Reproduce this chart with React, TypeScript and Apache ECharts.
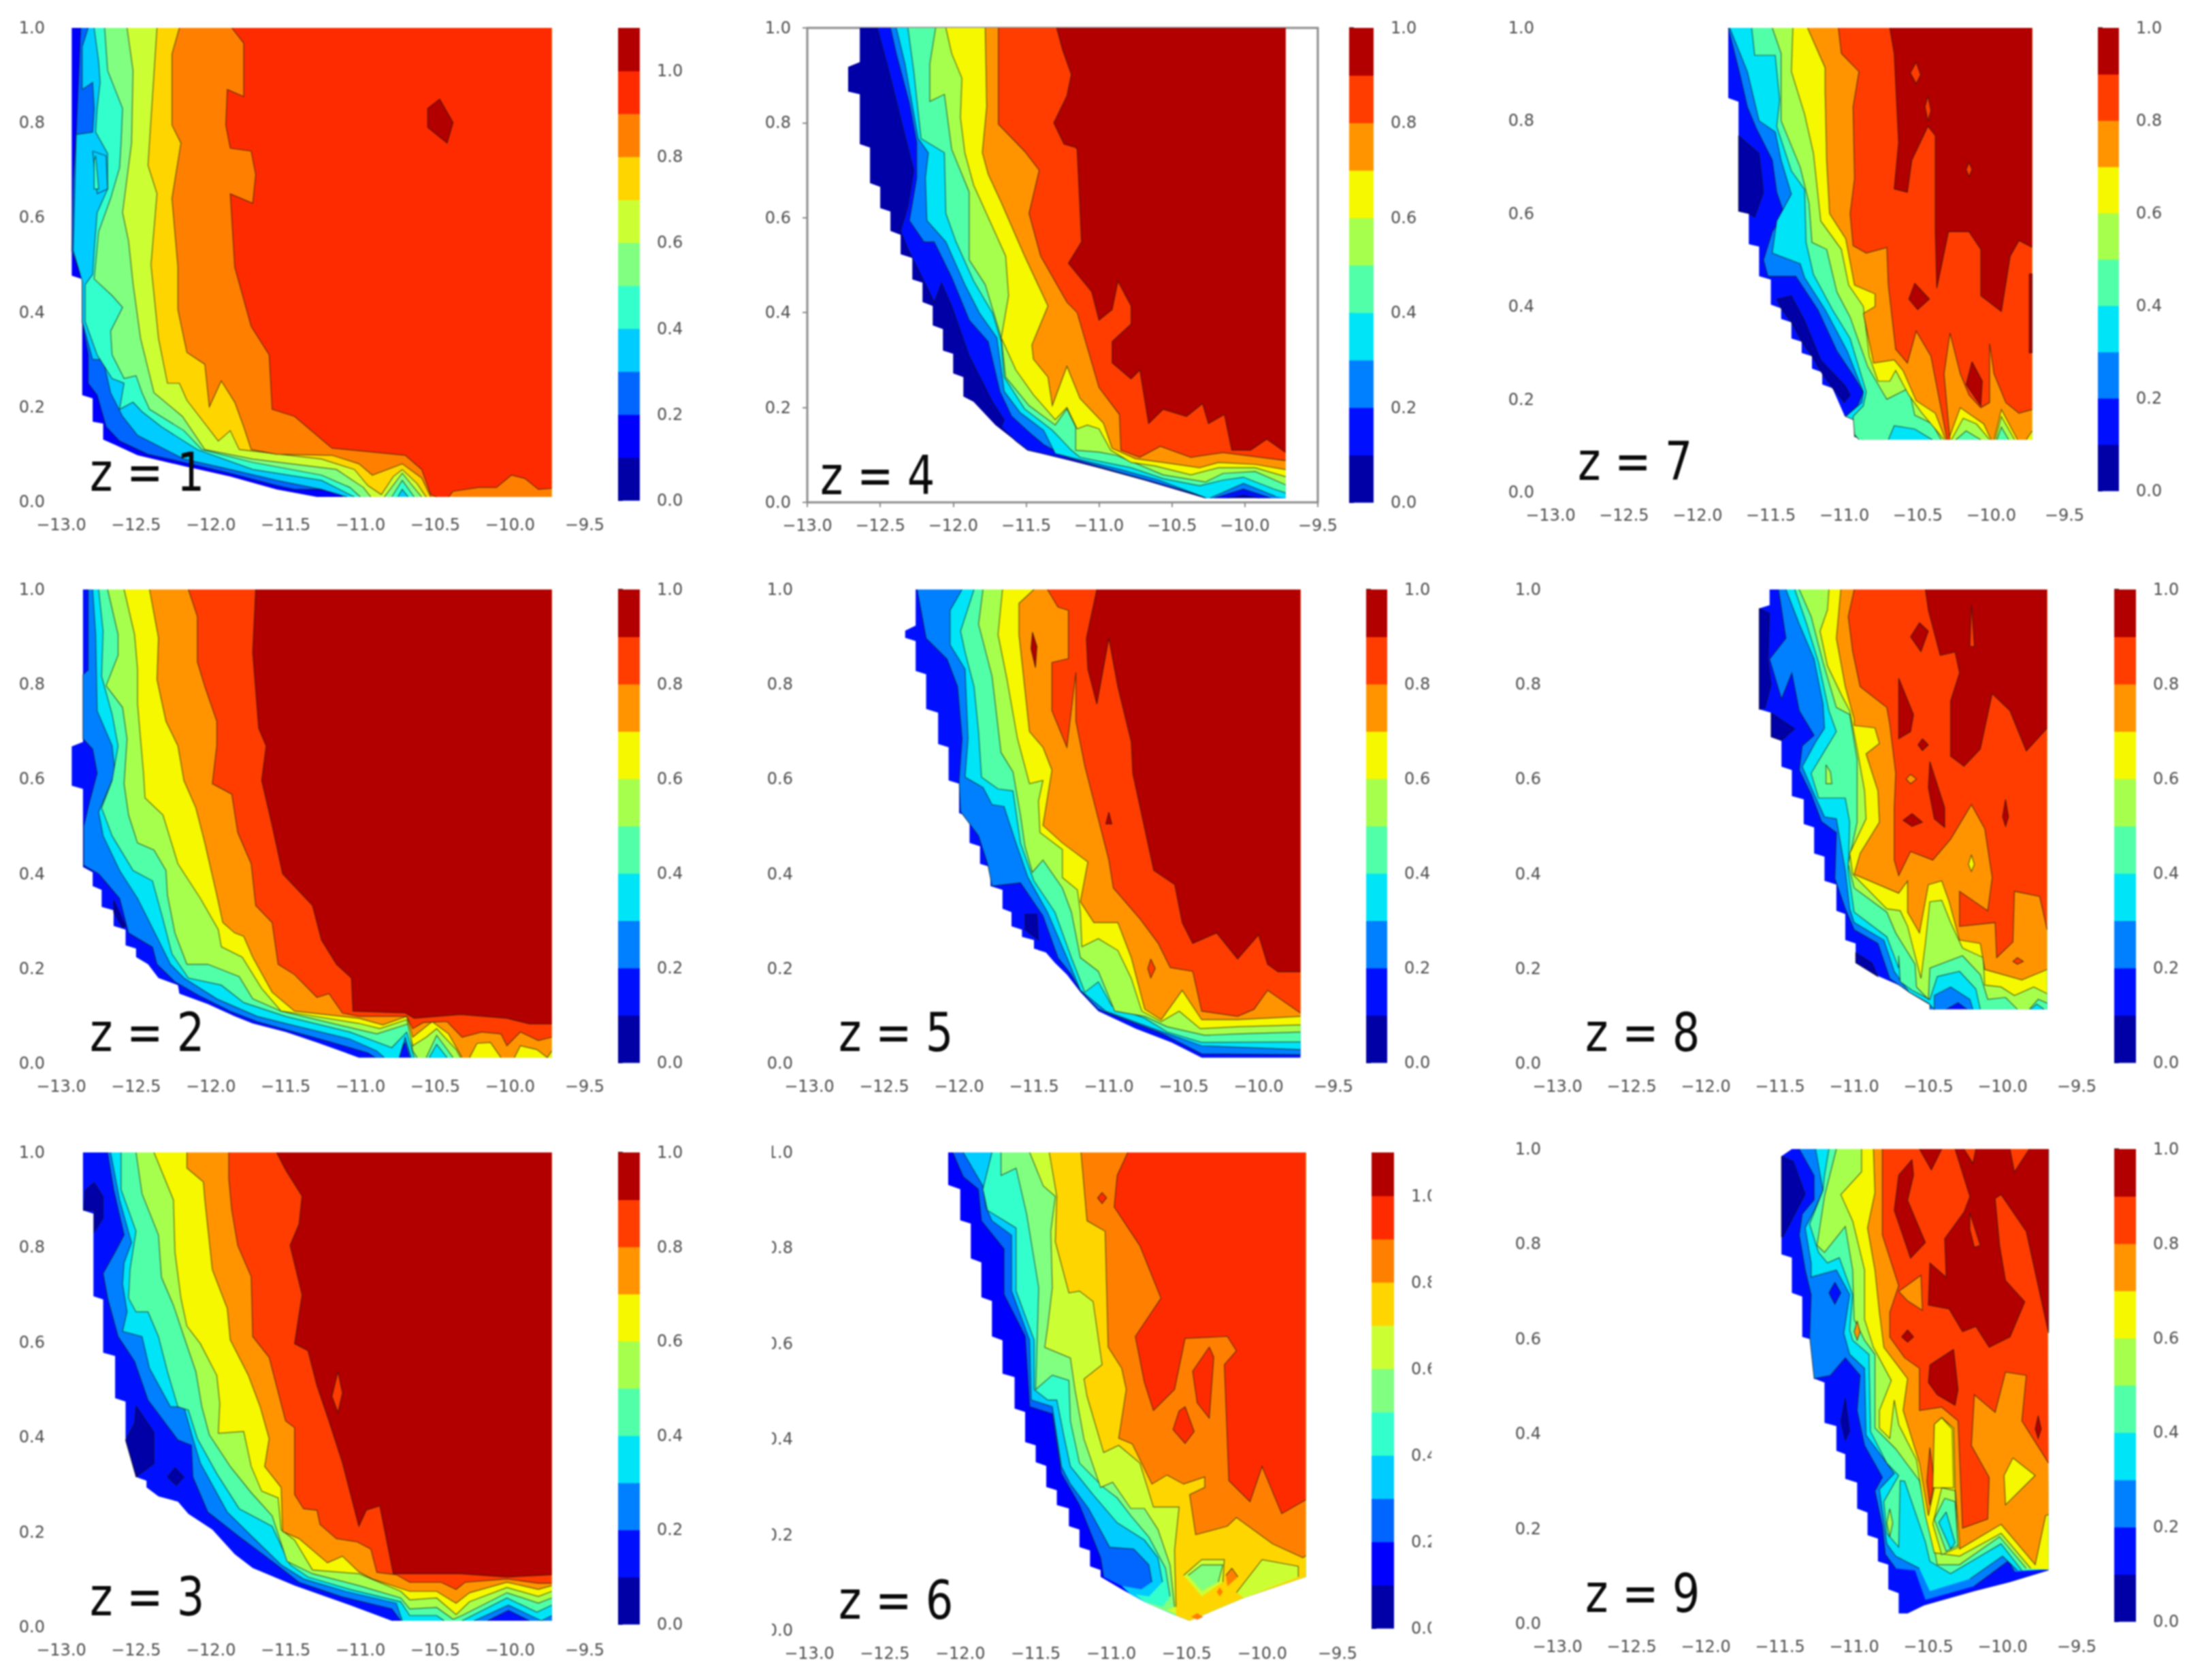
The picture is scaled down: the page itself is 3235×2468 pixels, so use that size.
import React, { useEffect, useRef } from "react";
import * as echarts from "echarts";

type Region = [number, number, number[]]; // [band index, kind 0 curve | 1 island | 2 outer mask, x,y pairs]

const JET10 = ["#0000a6", "#0010ff", "#0080ff", "#00e4f8", "#50ffa8", "#a6ff4c", "#f6f800", "#ff9400", "#ff3d00", "#b20000"];
const JET11 = ["#0000a6", "#0000ff", "#0066ff", "#00ccff", "#33ffcc", "#80ff80", "#ccff33", "#ffd500", "#ff8000", "#ff2b00", "#b20000"];
const X_TICK_MIN = -13;
const X_TICK_MAX = -9.5;
const CBAR_TICKS = [0, 0.2, 0.4, 0.6, 0.8, 1];

const z1: Region[] = [
  [1, 2, [-12.93,1,-12.93,.477,-12.86,.47,-12.86,.225,-12.79,.218,-12.79,.169,-12.72,.165,-12.72,.131,-12.64,.12,-12.49,.098,-12.18,.075,-11.87,.053,-11.56,.026,-11.29,.01,-9.72,.01]],
  [2, 0, [-12.87,1,-12.9,.78,-12.92,.68,-12.93,.53,-12.86,.47,-12.86,.38,-12.82,.31,-12.82,.25,-12.76,.225,-12.7,.158,-12.61,.128,-12.42,.1,-12.18,.083,-11.87,.06,-11.56,.034,-11.44,.026,-11.16,.026,-11.12,.01,-9.72,.01]],
  [3, 0, [-12.82,1,-12.86,.96,-12.86,.87,-12.79,.885,-12.78,.83,-12.79,.78,-12.9,.775,-12.92,.53,-12.86,.465,-12.86,.38,-12.79,.3,-12.72,.3,-12.67,.23,-12.59,.18,-12.49,.14,-12.18,.09,-11.87,.068,-11.56,.045,-11.26,.026,-11.09,.01,-9.72,.01]],
  [4, 0, [-12.78,1,-12.75,.93,-12.74,.885,-12.76,.83,-12.77,.78,-12.69,.735,-12.69,.66,-12.76,.61,-12.78,.53,-12.79,.48,-12.84,.458,-12.84,.38,-12.76,.31,-12.66,.26,-12.58,.25,-12.61,.195,-12.52,.21,-12.46,.19,-12.33,.158,-12.09,.11,-11.72,.068,-11.26,.045,-11.04,.01,-10.75,.01,-10.72,.026,-10.68,.01,-9.72,.01]],
  [3, 1, [-12.79,.74,-12.7,.73,-12.69,.66,-12.76,.65]],
  [4, 1, [-12.77,.73,-12.75,.66,-12.78,.66,-12.78,.72]],
  [5, 0, [-12.71,1,-12.69,.91,-12.59,.83,-12.6,.757,-12.61,.705,-12.67,.64,-12.75,.57,-12.78,.47,-12.66,.435,-12.59,.41,-12.67,.36,-12.66,.31,-12.58,.26,-12.5,.266,-12.46,.23,-12.41,.195,-12.18,.15,-12.06,.11,-11.72,.083,-11.26,.056,-11.07,.03,-11,.01,-10.79,.01,-10.72,.045,-10.64,.01,-9.72,.01]],
  [6, 0, [-12.56,1,-12.52,.91,-12.53,.757,-12.59,.61,-12.55,.55,-12.52,.46,-12.47,.345,-12.38,.23,-12.19,.18,-12.04,.11,-11.72,.09,-11.16,.068,-10.98,.03,-10.93,.01,-10.84,.01,-10.72,.06,-10.59,.01,-9.72,.01]],
  [7, 0, [-12.36,1,-12.42,.71,-12.36,.65,-12.4,.5,-12.35,.345,-12.29,.25,-12.21,.25,-12.16,.214,-11.95,.128,-11.87,.15,-11.81,.11,-11.26,.09,-11.04,.068,-10.95,.034,-10.86,.015,-10.78,.053,-10.72,.068,-10.62,.038,-10.56,.01,-9.72,.01]],
  [8, 0, [-12.21,1,-12.26,.945,-12.26,.795,-12.2,.757,-12.26,.64,-12.22,.495,-12.22,.405,-12.16,.315,-12.04,.29,-12.01,.2,-11.93,.255,-11.84,.21,-11.78,.158,-11.73,.11,-11.56,.1,-11.19,.098,-11.01,.08,-10.92,.056,-10.72,.08,-10.59,.05,-10.53,.01,-9.72,.01]],
  [9, 0, [-11.86,1,-11.78,.968,-11.78,.855,-11.89,.87,-11.9,.795,-11.87,.746,-11.73,.74,-11.7,.69,-11.72,.63,-11.87,.65,-11.84,.495,-11.73,.37,-11.61,.31,-11.59,.195,-11.44,.18,-11.19,.113,-10.7,.098,-10.59,.068,-10.53,.015,-10.49,.01,-10.41,.01,-10.38,.022,-10.21,.03,-10.09,.03,-9.99,.056,-9.9,.049,-9.81,.026,-9.72,.028]],
  [10, 1, [-10.47,.85,-10.38,.8,-10.42,.757,-10.55,.79,-10.55,.83]],
];

const z2: Region[] = [
  [1, 2, [-12.855,1,-12.855,.678,-12.93,.669,-12.93,.586,-12.855,.579,-12.855,.414,-12.79,.403,-12.79,.374,-12.73,.366,-12.73,.33,-12.65,.323,-12.65,.29,-12.57,.282,-12.57,.249,-12.5,.242,-12.5,.224,-12.42,.209,-12.35,.18,-12.22,.165,-12.21,.147,-12.02,.125,-11.84,.099,-11.72,.084,-11.5,.066,-11.29,.044,-11.01,.012,-9.72,.012]],
  [2, 0, [-12.82,1,-12.82,.83,-12.855,.82,-12.855,.685,-12.79,.663,-12.76,.612,-12.81,.553,-12.85,.5,-12.85,.418,-12.75,.4,-12.61,.348,-12.55,.275,-12.39,.245,-12.36,.209,-12.24,.172,-12.08,.143,-11.87,.11,-11.69,.088,-11.44,.066,-11.19,.044,-10.95,.022,-10.9,.012,-10.76,.012,-10.7,.044,-10.67,.012,-9.72,.012]],
  [3, 0, [-12.79,1,-12.77,.905,-12.76,.744,-12.66,.67,-12.64,.612,-12.75,.53,-12.72,.48,-12.61,.407,-12.49,.348,-12.35,.26,-12.27,.209,-12.18,.18,-11.96,.136,-11.69,.099,-11.41,.077,-11.07,.051,-10.89,.026,-10.84,.012,-10.74,.012,-10.7,.055,-10.66,.012,-9.72,.012]],
  [4, 0, [-12.75,1,-12.72,.912,-12.73,.817,-12.66,.737,-12.62,.67,-12.66,.597,-12.73,.539,-12.66,.48,-12.52,.407,-12.39,.385,-12.32,.304,-12.26,.231,-12.15,.18,-11.93,.165,-11.78,.128,-11.5,.099,-11.07,.066,-10.79,.033,-10.69,.066,-10.64,.012,-10.54,.012,-10.49,.04,-10.42,.012,-9.72,.012]],
  [5, 0, [-12.69,1,-12.62,.905,-12.62,.861,-12.7,.797,-12.59,.751,-12.56,.685,-12.58,.59,-12.55,.524,-12.49,.465,-12.38,.45,-12.3,.407,-12.29,.355,-12.24,.275,-12.16,.209,-12.02,.209,-11.81,.183,-11.72,.136,-11.53,.11,-11.04,.073,-10.89,.062,-10.67,.084,-10.65,.026,-10.62,.012,-10.56,.012,-10.49,.059,-10.38,.012,-9.72,.012]],
  [6, 0, [-12.58,1,-12.51,.905,-12.49,.832,-12.49,.759,-12.47,.685,-12.45,.612,-12.44,.56,-12.32,.524,-12.22,.421,-12.07,.348,-11.95,.282,-11.93,.246,-11.79,.224,-11.66,.158,-11.53,.11,-11.44,.106,-11.01,.084,-10.87,.073,-10.69,.092,-10.65,.037,-10.56,.055,-10.49,.073,-10.36,.029,-10.33,.012,-9.72,.012]],
  [7, 0, [-12.41,1,-12.35,.898,-12.36,.81,-12.3,.722,-12.22,.67,-12.18,.597,-12.1,.539,-12.04,.465,-11.96,.355,-11.92,.297,-11.84,.275,-11.78,.268,-11.72,.224,-11.59,.15,-11.44,.11,-11.01,.095,-10.85,.081,-10.69,.099,-10.65,.055,-10.52,.088,-10.41,.062,-10.32,.012,-10.27,.012,-10.22,.042,-10.13,.044,-10.06,.012,-9.97,.012,-9.93,.037,-9.82,.029,-9.75,.012,-9.72,.026]],
  [8, 0, [-12.15,1,-12.09,.943,-12.09,.847,-12.04,.795,-11.96,.722,-11.96,.671,-11.99,.59,-11.86,.568,-11.82,.487,-11.73,.421,-11.7,.333,-11.59,.297,-11.55,.209,-11.44,.187,-11.29,.139,-11.21,.147,-11.12,.106,-11.01,.099,-10.69,.099,-10.65,.073,-10.58,.086,-10.42,.088,-10.32,.055,-10.19,.066,-10.06,.062,-10.02,.037,-9.93,.066,-9.81,.048,-9.72,.055]],
  [9, 0, [-11.7,1,-11.72,.868,-11.68,.707,-11.63,.67,-11.66,.597,-11.59,.502,-11.52,.4,-11.32,.333,-11.26,.26,-11.16,.209,-11.06,.18,-11.05,.11,-10.7,.106,-10.64,.095,-10.33,.103,-10.02,.095,-9.87,.083,-9.72,.083]],
  [0, 1, [-12.65,.345,-12.57,.29,-12.59,.286,-12.65,.319]],
];

const z3: Region[] = [
  [1, 2, [-12.855,1,-12.855,.878,-12.785,.871,-12.785,.697,-12.72,.69,-12.72,.578,-12.64,.571,-12.64,.482,-12.57,.475,-12.57,.393,-12.5,.386,-12.5,.316,-12.43,.308,-12.43,.294,-12.35,.275,-12.22,.264,-12.15,.238,-11.99,.205,-11.84,.153,-11.72,.124,-11.44,.087,-11.07,.046,-10.79,.013,-9.72,.013]],
  [0, 1, [-12.78,.937,-12.72,.907,-12.72,.862,-12.78,.832,-12.78,.878,-12.85,.878,-12.84,.92]],
  [0, 1, [-12.5,.466,-12.38,.41,-12.38,.344,-12.5,.316,-12.57,.393,-12.51,.43]],
  [0, 1, [-12.24,.336,-12.18,.316,-12.23,.298,-12.29,.316]],
  [2, 0, [-12.69,1,-12.65,.922,-12.58,.826,-12.64,.79,-12.72,.745,-12.69,.693,-12.62,.612,-12.51,.56,-12.42,.478,-12.22,.394,-12.13,.383,-12.12,.316,-12.02,.242,-11.81,.19,-11.56,.131,-11.41,.094,-11.13,.064,-10.79,.038,-10.73,.013,-10.15,.013,-10.01,.035,-9.87,.013,-9.72,.013]],
  [3, 0, [-12.67,1,-12.61,.9,-12.53,.81,-12.58,.767,-12.59,.723,-12.56,.664,-12.59,.623,-12.46,.612,-12.41,.545,-12.27,.464,-12.18,.464,-12.12,.397,-12.07,.345,-11.89,.242,-11.7,.183,-11.53,.131,-11.38,.101,-11.1,.075,-10.76,.05,-10.72,.013,-10.24,.013,-10.01,.046,-9.79,.013,-9.72,.024]],
  [4, 0, [-12.6,1,-12.6,.922,-12.5,.834,-12.54,.753,-12.55,.693,-12.5,.664,-12.42,.664,-12.35,.612,-12.29,.538,-12.22,.464,-12.15,.457,-12.09,.397,-11.96,.323,-11.81,.249,-11.59,.212,-11.47,.131,-11.35,.105,-11.07,.079,-10.73,.053,-10.67,.024,-10.49,.024,-10.44,.013,-10.32,.013,-10.02,.061,-9.82,.031,-9.72,.046]],
  [5, 0, [-12.5,1,-12.46,.913,-12.35,.826,-12.33,.737,-12.25,.678,-12.18,.612,-12.1,.538,-12.06,.464,-12.01,.405,-11.87,.338,-11.73,.283,-11.59,.234,-11.49,.138,-11.32,.112,-11.01,.087,-10.73,.061,-10.67,.038,-10.49,.041,-10.38,.016,-10.32,.024,-10.02,.072,-9.81,.05,-9.72,.061]],
  [6, 0, [-12.38,1,-12.25,.9,-12.24,.79,-12.2,.693,-12.16,.634,-12.07,.597,-11.96,.53,-11.94,.471,-11.95,.408,-11.78,.412,-11.73,.338,-11.66,.286,-11.55,.272,-11.53,.205,-11.44,.183,-11.32,.12,-11.01,.112,-10.73,.075,-10.67,.057,-10.49,.061,-10.36,.026,-10.27,.053,-10.02,.083,-9.81,.064,-9.72,.075]],
  [7, 0, [-12.16,1,-12.16,.967,-12.05,.938,-12.04,.9,-11.99,.753,-11.89,.671,-11.87,.605,-11.75,.531,-11.67,.464,-11.61,.397,-11.64,.338,-11.53,.294,-11.52,.201,-11.41,.186,-11.22,.135,-11.12,.149,-11.01,.116,-10.92,.101,-10.67,.075,-10.49,.075,-10.36,.05,-10.27,.072,-10.02,.094,-9.81,.079,-9.72,.087]],
  [8, 0, [-11.88,1,-11.88,.945,-11.86,.878,-11.82,.804,-11.73,.738,-11.72,.612,-11.61,.568,-11.5,.434,-11.44,.42,-11.44,.279,-11.38,.249,-11.29,.246,-11.27,.216,-11.16,.186,-11.02,.179,-10.93,.164,-10.89,.115,-10.76,.11,-10.67,.094,-10.46,.094,-10.36,.079,-10.3,.094,-10.02,.101,-9.81,.092,-9.72,.092]],
  [9, 0, [-11.56,1,-11.5,.963,-11.39,.908,-11.41,.849,-11.47,.804,-11.39,.7,-11.44,.597,-11.35,.582,-11.29,.508,-11.21,.434,-11.12,.346,-11.01,.212,-10.96,.246,-10.87,.255,-10.78,.112,-10.33,.112,-10.02,.105,-9.72,.11]],
  [8, 1, [-11.15,.538,-11.12,.493,-11.15,.452,-11.19,.486]],
];

const z4: Region[] = [
  [0, 2, [-12.64,1,-12.64,.928,-12.72,.918,-12.72,.866,-12.64,.86,-12.64,.755,-12.57,.748,-12.57,.673,-12.5,.665,-12.5,.62,-12.43,.613,-12.43,.572,-12.36,.564,-12.36,.523,-12.28,.515,-12.28,.47,-12.21,.463,-12.21,.422,-12.14,.414,-12.14,.373,-12.07,.365,-12.07,.32,-12,.313,-12,.272,-11.93,.264,-11.93,.223,-11.86,.212,-11.71,.163,-11.57,.129,-11.49,.11,-11.35,.1,-11.19,.088,-11,.073,-10.69,.047,-10.27,.009,-9.72,.009]],
  [1, 0, [-12.52,1,-12.44,.909,-12.35,.797,-12.27,.7,-12.31,.624,-12.36,.572,-12.31,.534,-12.2,.467,-12.13,.422,-12.08,.463,-12.01,.414,-11.89,.309,-11.73,.212,-11.65,.174,-11.67,.159,-11.57,.129,-11.49,.11,-11.35,.1,-11.19,.088,-11,.073,-10.69,.047,-10.27,.009,-10.12,.009,-10.01,.015,-9.9,.009,-9.72,.009]],
  [2, 0, [-12.43,1,-12.39,.946,-12.3,.841,-12.25,.759,-12.25,.684,-12.3,.594,-12.2,.549,-12.13,.549,-12.01,.474,-11.89,.384,-11.76,.339,-11.68,.234,-11.6,.182,-11.48,.148,-11.38,.122,-11.22,.095,-10.88,.065,-10.62,.043,-10.29,.013,-10.27,.009,-10.21,.009,-10.01,.028,-9.82,.009,-9.72,.009]],
  [3, 0, [-12.39,1,-12.33,.924,-12.24,.767,-12.17,.737,-12.19,.684,-12.18,.594,-12.05,.549,-11.92,.459,-11.82,.399,-11.7,.347,-11.65,.234,-11.54,.189,-11.38,.152,-11.3,.103,-11.16,.092,-10.85,.069,-10.59,.047,-10.27,.01,-10.24,.009,-10.01,.04,-9.79,.013,-9.72,.009]],
  [4, 0, [-12.31,1,-12.27,.909,-12.22,.767,-12.06,.737,-12.05,.609,-11.98,.549,-11.86,.467,-11.73,.399,-11.67,.339,-11.65,.264,-11.51,.197,-11.32,.152,-11.26,.133,-11.19,.11,-11.13,.095,-10.78,.073,-10.56,.05,-10.31,.035,-10.15,.047,-10.01,.053,-9.8,.028,-9.72,.02]],
  [5, 0, [-12.12,1,-12.16,.924,-12.16,.845,-12.06,.86,-12.01,.744,-11.89,.654,-11.89,.511,-11.78,.459,-11.67,.347,-11.64,.264,-11.48,.204,-11.3,.163,-11.22,.197,-11.16,.159,-11.16,.11,-11,.106,-10.88,.099,-10.56,.058,-10.27,.043,-10.15,.061,-9.93,.065,-9.72,.037]],
  [6, 0, [-12.05,1,-12.01,.946,-11.94,.894,-11.95,.811,-11.92,.737,-11.86,.669,-11.75,.594,-11.64,.519,-11.62,.436,-11.67,.347,-11.57,.279,-11.45,.227,-11.3,.174,-11.22,.2,-11.15,.155,-11.08,.163,-11,.155,-10.92,.11,-10.78,.084,-10.62,.077,-10.37,.058,-10.18,.073,-9.93,.073,-9.72,.054]],
  [7, 0, [-11.78,1,-11.77,.834,-11.8,.737,-11.76,.692,-11.67,.632,-11.51,.519,-11.35,.414,-11.46,.332,-11.45,.302,-11.35,.264,-11.32,.204,-11.22,.287,-11.13,.219,-10.97,.167,-10.91,.114,-10.75,.092,-10.56,.084,-10.31,.073,-10.18,.084,-9.93,.08,-9.72,.069]],
  [8, 0, [-11.69,1,-11.69,.797,-11.51,.74,-11.41,.7,-11.48,.609,-11.4,.519,-11.22,.422,-11.15,.4,-11,.242,-10.86,.185,-10.85,.11,-10.72,.095,-10.58,.118,-10.37,.095,-10.15,.105,-9.72,.088]],
  [9, 0, [-11.29,1,-11.25,.954,-11.19,.902,-11.22,.857,-11.31,.8,-11.24,.755,-11.16,.748,-11.15,.744,-11.12,.549,-11.21,.504,-11.05,.444,-11,.384,-10.91,.406,-10.87,.466,-10.78,.414,-10.78,.376,-10.91,.339,-10.91,.294,-10.78,.26,-10.72,.279,-10.66,.166,-10.56,.196,-10.4,.181,-10.29,.208,-10.25,.166,-10.14,.185,-10.09,.11,-9.96,.11,-9.85,.133,-9.72,.105]],
];

const z5: Region[] = [
  [1, 2, [-12.29,1,-12.29,.924,-12.36,.913,-12.36,.898,-12.29,.891,-12.29,.828,-12.22,.821,-12.22,.748,-12.14,.74,-12.14,.674,-12.07,.667,-12.07,.597,-12,.59,-12,.528,-11.93,.52,-11.93,.465,-11.86,.458,-11.86,.421,-11.79,.414,-11.79,.374,-11.71,.366,-11.71,.326,-11.65,.319,-11.65,.289,-11.58,.282,-11.58,.267,-11.5,.26,-11.5,.242,-11.42,.234,-11.36,.212,-11.28,.187,-11.19,.15,-11.07,.11,-10.82,.073,-10.58,.044,-10.38,.012,-9.72,.012]],
  [2, 0, [-12.28,1,-12.22,.897,-12.08,.853,-12.01,.795,-11.98,.685,-12,.597,-11.99,.531,-11.87,.48,-11.81,.421,-11.78,.374,-11.59,.381,-11.44,.311,-11.34,.223,-11.25,.187,-11.19,.154,-11.07,.114,-10.64,.062,-10.38,.02,-9.72,.018]],
  [0, 1, [-11.56,.315,-11.48,.315,-11.47,.26,-11.56,.282]],
  [3, 0, [-11.98,1,-12.06,.956,-12.06,.883,-11.96,.832,-11.94,.685,-11.96,.604,-11.84,.582,-11.78,.546,-11.7,.542,-11.62,.465,-11.54,.392,-11.41,.319,-11.28,.223,-11.19,.154,-11.02,.11,-10.64,.066,-10.38,.037,-9.72,.029]],
  [4, 0, [-11.9,1,-11.99,.912,-11.96,.868,-11.9,.795,-11.87,.7,-11.85,.604,-11.74,.579,-11.64,.575,-11.59,.465,-11.5,.385,-11.36,.319,-11.25,.223,-11.16,.15,-11.07,.172,-10.98,.121,-10.76,.095,-10.61,.066,-10.38,.044,-9.72,.045]],
  [5, 0, [-11.84,1,-11.87,.927,-11.78,.817,-11.72,.656,-11.64,.615,-11.59,.524,-11.56,.458,-11.51,.403,-11.44,.429,-11.31,.37,-11.25,.319,-11.19,.223,-11.07,.194,-10.96,.11,-10.76,.099,-10.61,.077,-10.36,.059,-10.14,.062,-9.72,.066]],
  [6, 0, [-11.71,1,-11.74,.905,-11.68,.81,-11.61,.685,-11.53,.59,-11.44,.597,-11.47,.553,-11.46,.487,-11.31,.451,-11.31,.392,-11.21,.366,-11.19,.319,-11.18,.246,-11.07,.263,-10.94,.238,-10.85,.179,-10.78,.11,-10.65,.088,-10.53,.11,-10.39,.073,-10.14,.077,-9.72,.081]],
  [7, 0, [-11.5,1,-11.6,.971,-11.6,.905,-11.53,.7,-11.44,.667,-11.38,.619,-11.44,.502,-11.31,.465,-11.14,.425,-11.19,.341,-11.1,.297,-10.94,.297,-10.85,.223,-10.76,.114,-10.65,.092,-10.51,.154,-10.38,.092,-10.14,.092,-9.72,.099]],
  [8, 0, [-11.41,1,-11.34,.963,-11.27,.956,-11.27,.854,-11.38,.846,-11.38,.744,-11.28,.667,-11.22,.825,-11.22,.722,-11.16,.627,-11,.429,-10.97,.37,-10.79,.304,-10.67,.253,-10.59,.202,-10.44,.194,-10.38,.11,-10.14,.099,-10.03,.114,-9.94,.154,-9.72,.106]],
  [9, 0, [-11.08,1,-11.15,.897,-11.14,.832,-11.08,.758,-11,.897,-10.94,.795,-10.85,.678,-10.84,.612,-10.7,.407,-10.56,.377,-10.51,.297,-10.44,.253,-10.28,.275,-10.14,.22,-10,.271,-9.94,.209,-9.87,.193,-9.72,.193]],
  [9, 1, [-11.51,.91,-11.48,.88,-11.49,.835,-11.52,.875]],
  [9, 1, [-11,.53,-10.98,.505,-11.02,.505]],
  [8, 1, [-10.72,.22,-10.69,.2,-10.72,.18,-10.74,.2]],
];

const z6: Region[] = [
  [1, 2, [-12.08,1,-12.08,.932,-12,.923,-12,.858,-11.93,.851,-11.93,.778,-11.86,.77,-11.86,.697,-11.79,.689,-11.79,.615,-11.72,.607,-11.72,.537,-11.64,.53,-11.64,.464,-11.57,.457,-11.57,.394,-11.5,.387,-11.5,.352,-11.43,.344,-11.43,.3,-11.36,.293,-11.36,.262,-11.28,.255,-11.28,.218,-11.21,.211,-11.21,.174,-11.14,.167,-11.14,.134,-11.07,.126,-11.07,.112,-10.93,.086,-10.78,.06,-10.6,.035,-10.48,.02,-10.12,.068,-9.71,.112]],
  [2, 0, [-12.05,1,-11.98,.949,-11.88,.923,-11.86,.857,-11.71,.798,-11.71,.703,-11.57,.615,-11.54,.468,-11.39,.453,-11.33,.328,-11.21,.262,-11.07,.152,-11.05,.112,-10.93,.093,-10.87,.079,-10.78,.06,-10.6,.035,-10.48,.02,-10.12,.068,-9.71,.112]],
  [3, 0, [-11.98,1,-11.85,.93,-11.83,.886,-11.79,.857,-11.66,.827,-11.66,.71,-11.54,.607,-11.53,.482,-11.39,.468,-11.33,.343,-11.27,.306,-11.15,.255,-11.01,.174,-10.85,.17,-10.75,.137,-10.73,.101,-10.8,.086,-10.93,.093,-10.87,.075,-10.78,.06,-10.6,.035,-10.48,.02,-10.12,.068,-9.71,.112]],
  [4, 0, [-11.79,1,-11.85,.923,-11.82,.879,-11.63,.842,-11.63,.71,-11.51,.607,-11.51,.504,-11.42,.482,-11.36,.482,-11.31,.402,-11.27,.343,-11.12,.284,-10.96,.225,-10.78,.189,-10.69,.152,-10.66,.101,-10.75,.071,-10.84,.075,-10.78,.06,-10.6,.035,-10.48,.02,-10.12,.068,-9.71,.112]],
  [5, 0, [-11.73,1,-11.73,.952,-11.63,.967,-11.56,.871,-11.48,.717,-11.5,.504,-11.39,.534,-11.28,.523,-11.27,.438,-11.21,.35,-11.05,.299,-10.96,.277,-10.87,.24,-10.75,.195,-10.64,.13,-10.61,.071,-10.66,.049,-10.78,.06,-10.6,.035,-10.48,.02,-10.12,.068,-9.71,.112]],
  [6, 0, [-11.54,1,-11.45,.93,-11.37,.908,-11.4,.835,-11.39,.717,-11.42,.637,-11.44,.592,-11.27,.57,-11.24,.504,-11.18,.4,-11.07,.299,-10.99,.31,-10.87,.255,-10.78,.255,-10.69,.211,-10.61,.137,-10.58,.049,-10.63,.043,-10.48,.02,-10.12,.068,-9.71,.112]],
  [7, 0, [-11.41,1,-11.36,.908,-11.37,.813,-11.28,.706,-11.21,.71,-11.12,.688,-11.06,.556,-11.18,.526,-11.16,.49,-11.05,.372,-10.95,.387,-10.81,.35,-10.72,.258,-10.55,.258,-10.58,.167,-10.57,.049,-10.57,.031,-10.48,.02,-10.12,.068,-9.71,.112]],
  [8, 0, [-11.2,1,-11.16,.857,-11.04,.835,-11.02,.593,-10.93,.548,-10.9,.504,-10.95,.402,-10.86,.39,-10.73,.306,-10.63,.325,-10.52,.306,-10.38,.321,-10.38,.299,-10.48,.284,-10.44,.2,-10.23,.218,-10.17,.236,-9.93,.181,-9.73,.152,-9.71,.156]],
  [9, 0, [-10.89,1,-10.96,.952,-10.98,.886,-10.81,.805,-10.67,.695,-10.84,.615,-10.78,.519,-10.72,.46,-10.58,.504,-10.51,.611,-10.23,.615,-10.17,.585,-10.25,.556,-10.22,.313,-10.08,.269,-10,.343,-9.87,.244,-9.71,.273]],
  [9, 1, [-10.35,.593,-10.32,.572,-10.35,.444,-10.43,.476,-10.46,.542]],
  [9, 1, [-10.51,.468,-10.45,.416,-10.51,.391,-10.59,.42,-10.55,.459]],
  [9, 1, [-11.06,.916,-11.03,.905,-11.06,.893,-11.09,.905]],
  [6, 1, [-10.17,.079,-10,.148,-9.76,.134,-9.76,.112,-10.12,.068]],
  [6, 1, [-10.52,.115,-10.4,.148,-10.25,.148,-10.26,.101,-10.4,.071]],
  [5, 1, [-10.49,.115,-10.4,.137,-10.26,.137,-10.29,.101,-10.4,.082]],
  [8, 1, [-10.2,.13,-10.16,.112,-10.23,.092,-10.24,.115]],
  [8, 1, [-10.28,.09,-10.26,.08,-10.28,.071,-10.3,.08]],
  [8, 1, [-10.43,.036,-10.39,.028,-10.43,.022,-10.47,.028]],
];

const z7: Region[] = [
  [1, 2, [-11.79,1,-11.79,.849,-11.72,.841,-11.72,.605,-11.65,.6,-11.65,.534,-11.58,.529,-11.58,.465,-11.5,.458,-11.5,.404,-11.43,.396,-11.43,.373,-11.36,.366,-11.36,.331,-11.29,.324,-11.29,.3,-11.22,.293,-11.22,.266,-11.15,.258,-11.15,.232,-11.08,.224,-11,.166,-10.93,.155,-10.93,.12,-10.87,.113,-9.72,.113]],
  [0, 1, [-11.72,.768,-11.58,.73,-11.55,.646,-11.61,.592,-11.65,.6,-11.72,.605]],
  [0, 1, [-11.46,.416,-11.36,.423,-11.27,.37,-11.16,.285,-10.99,.228,-10.96,.209,-11,.193,-11.08,.224,-11.15,.255,-11.22,.293,-11.29,.324,-11.36,.366,-11.43,.396]],
  [2, 0, [-11.79,1,-11.71,.899,-11.66,.83,-11.6,.784,-11.49,.715,-11.46,.646,-11.41,.6,-11.49,.561,-11.55,.5,-11.52,.465,-11.33,.465,-11.18,.393,-11.05,.304,-10.93,.247,-10.87,.216,-10.91,.186,-10.99,.163,-11,.166,-10.93,.155,-10.93,.12,-10.87,.113,-9.72,.113]],
  [3, 0, [-11.78,1,-11.66,.906,-11.58,.8,-11.47,.776,-11.43,.715,-11.36,.642,-11.46,.584,-11.49,.515,-11.3,.492,-11.27,.462,-11.13,.393,-10.98,.304,-10.87,.216,-10.88,.193,-10.99,.163,-10.93,.155,-10.93,.12,-10.87,.113,-9.72,.113]],
  [4, 0, [-11.63,1,-11.61,.941,-11.47,.941,-11.44,.845,-11.46,.788,-11.36,.692,-11.27,.652,-11.26,.538,-11.21,.469,-11.08,.393,-10.96,.331,-10.85,.216,-10.87,.186,-10.94,.163,-10.93,.124,-10.9,.113,-10.7,.113,-10.66,.143,-10.52,.136,-10.4,.113,-9.72,.113]],
  [5, 0, [-11.49,1,-11.43,.945,-11.43,.8,-11.3,.7,-11.24,.623,-11.22,.538,-11.12,.523,-11.05,.431,-10.96,.377,-10.84,.27,-10.74,.216,-10.71,.2,-10.56,.224,-10.52,.166,-10.4,.147,-10.34,.113,-10.24,.113,-10.17,.132,-10.07,.113,-9.96,.113,-9.93,.14,-9.88,.113,-9.72,.113]],
  [6, 0, [-11.35,1,-11.36,.906,-11.27,.814,-11.21,.73,-11.16,.584,-11.02,.523,-10.97,.446,-10.87,.4,-10.83,.293,-10.77,.239,-10.69,.239,-10.65,.262,-10.56,.209,-10.47,.17,-10.37,.132,-10.32,.113,-10.27,.113,-10.19,.159,-10.1,.147,-10.01,.113,-9.97,.113,-9.93,.163,-9.84,.113,-9.72,.113]],
  [7, 0, [-11.25,1,-11.13,.914,-11.13,.86,-11.12,.715,-11.1,.6,-10.99,.546,-10.93,.446,-10.79,.427,-10.79,.4,-10.87,.385,-10.8,.278,-10.66,.285,-10.6,.262,-10.51,.197,-10.38,.17,-10.31,.113,-10.29,.113,-10.21,.182,-10.05,.147,-10,.113,-9.98,.113,-9.93,.178,-9.82,.113,-9.76,.113,-9.72,.132]],
  [8, 0, [-11.04,1,-11.02,.945,-10.9,.906,-10.94,.83,-10.93,.676,-10.96,.6,-10.94,.531,-10.85,.515,-10.71,.527,-10.7,.446,-10.65,.308,-10.57,.278,-10.51,.347,-10.41,.293,-10.3,.113,-10.28,.113,-10.32,.255,-10.28,.343,-10.21,.255,-10.15,.209,-10.07,.182,-10.01,.193,-10.01,.32,-9.98,.255,-9.9,.193,-9.81,.17,-9.72,.178]],
  [9, 0, [-10.69,1,-10.66,.945,-10.63,.753,-10.66,.653,-10.57,.646,-10.54,.715,-10.43,.788,-10.38,.768,-10.38,.561,-10.37,.439,-10.29,.561,-10.15,.561,-10.07,.523,-10.07,.423,-9.93,.389,-9.87,.508,-9.81,.542,-9.72,.527]],
  [9, 1, [-9.74,.47,-9.72,.47,-9.72,.3,-9.74,.3]],
  [9, 1, [-10.52,.45,-10.42,.416,-10.5,.393,-10.56,.416]],
  [9, 1, [-10.13,.281,-10.06,.239,-10.07,.186,-10.17,.232]],
  [8, 1, [-10.51,.926,-10.48,.899,-10.51,.88,-10.55,.903]],
  [8, 1, [-10.43,.853,-10.41,.822,-10.43,.8,-10.45,.83]],
  [8, 1, [-10.15,.71,-10.13,.695,-10.15,.68,-10.17,.695]],
];

const z8: Region[] = [
  [1, 2, [-11.57,1,-11.57,.967,-11.64,.96,-11.64,.747,-11.56,.74,-11.56,.689,-11.49,.681,-11.49,.626,-11.42,.619,-11.42,.564,-11.34,.557,-11.34,.505,-11.27,.498,-11.27,.443,-11.2,.436,-11.2,.385,-11.12,.377,-11.12,.322,-11.06,.315,-11.06,.26,-10.99,.253,-10.99,.212,-10.83,.183,-10.64,.157,-10.49,.128,-10.49,.114,-9.7,.114]],
  [0, 1, [-11.64,.96,-11.57,.95,-11.58,.85,-11.56,.8,-11.6,.75,-11.64,.747]],
  [0, 1, [-11.56,.74,-11.4,.706,-11.49,.681,-11.56,.689]],
  [0, 1, [-10.99,.234,-10.88,.212,-10.84,.183,-10.99,.212]],
  [2, 0, [-11.51,1,-11.46,.897,-11.57,.853,-11.49,.769,-11.42,.824,-11.37,.744,-11.27,.692,-11.35,.67,-11.37,.619,-11.29,.568,-11.22,.51,-11.12,.487,-11.13,.39,-11.06,.326,-11,.282,-10.84,.253,-10.76,.179,-10.63,.15,-10.49,.124,-10.49,.114,-10.38,.114,-10.3,.128,-10.24,.114,-9.7,.114]],
  [3, 0, [-11.46,1,-11.37,.927,-11.27,.853,-11.21,.758,-11.2,.707,-11.26,.678,-11.35,.626,-11.27,.568,-11.2,.52,-11.12,.516,-11.06,.407,-11.03,.326,-11,.297,-10.8,.26,-10.73,.194,-10.63,.15,-10.5,.127,-10.46,.114,-10.46,.143,-10.35,.161,-10.22,.135,-10.2,.114,-9.7,.114]],
  [4, 0, [-11.4,1,-11.32,.927,-11.24,.846,-11.17,.744,-11.12,.7,-11.2,.659,-11.29,.612,-11.24,.56,-11.06,.56,-11.03,.509,-11.04,.407,-11,.319,-10.78,.267,-10.7,.201,-10.7,.227,-10.69,.172,-10.61,.154,-10.49,.135,-10.44,.183,-10.29,.194,-10.18,.157,-10.15,.114,-9.81,.114,-9.77,.125,-9.72,.114,-9.7,.114]],
  [5, 0, [-11.37,1,-11.29,.943,-11.21,.846,-11.12,.751,-11.03,.736,-10.98,.641,-10.98,.509,-11.04,.421,-11,.37,-10.78,.319,-10.72,.275,-10.59,.209,-10.58,.161,-10.5,.135,-10.49,.201,-10.27,.227,-10.15,.187,-10.1,.135,-9.98,.139,-9.9,.114,-9.82,.114,-9.76,.135,-9.7,.127]],
  [6, 0, [-11.17,1,-11.18,.957,-11.23,.912,-11.18,.839,-11.09,.78,-11.03,.744,-10.98,.663,-10.93,.575,-10.92,.516,-11.03,.443,-11.01,.399,-10.78,.326,-10.69,.322,-10.64,.289,-10.55,.179,-10.52,.253,-10.49,.341,-10.41,.344,-10.35,.297,-10.27,.243,-10.13,.223,-10.12,.165,-10.01,.161,-9.92,.143,-9.79,.161,-9.7,.147]],
  [5, 1, [-11.19,.63,-11.16,.615,-11.15,.59,-11.19,.59]],
  [7, 0, [-11.09,1,-11.12,.897,-11.06,.795,-11,.726,-11,.713,-10.86,.708,-10.83,.675,-10.92,.653,-10.84,.575,-10.83,.509,-10.96,.443,-11,.399,-10.7,.359,-10.64,.385,-10.64,.319,-10.56,.275,-10.5,.377,-10.41,.385,-10.36,.341,-10.29,.26,-10.15,.253,-10.12,.198,-9.87,.176,-9.7,.198]],
  [8, 0, [-11,1,-11.04,.943,-11.01,.869,-10.96,.795,-10.78,.751,-10.76,.715,-10.72,.612,-10.73,.539,-10.73,.429,-10.7,.396,-10.62,.447,-10.47,.429,-10.35,.473,-10.21,.546,-10.12,.495,-10.07,.392,-10.1,.322,-10.29,.363,-10.29,.289,-10.05,.297,-10.04,.223,-9.93,.256,-9.92,.363,-9.75,.352,-9.7,.282]],
  [9, 0, [-10.52,1,-10.5,.956,-10.42,.861,-10.32,.868,-10.29,.824,-10.35,.765,-10.35,.648,-10.26,.627,-10.15,.663,-10.07,.78,-9.95,.744,-9.84,.659,-9.7,.707]],
  [9, 1, [-10.56,.93,-10.5,.912,-10.55,.869,-10.62,.9]],
  [9, 1, [-10.7,.813,-10.6,.736,-10.62,.7,-10.7,.685]],
  [9, 1, [-10.49,.637,-10.39,.539,-10.39,.498,-10.46,.516,-10.5,.582]],
  [9, 1, [-10.61,.527,-10.54,.509,-10.61,.5,-10.67,.513]],
  [9, 1, [-10.54,.685,-10.5,.672,-10.54,.66,-10.57,.672]],
  [9, 1, [-9.98,.557,-9.96,.52,-9.98,.5,-10,.52]],
  [7, 1, [-10.62,.61,-10.58,.6,-10.62,.59,-10.65,.6]],
  [8, 1, [-10.21,.967,-10.19,.88,-10.22,.88]],
  [6, 1, [-10.21,.44,-10.19,.42,-10.21,.405,-10.23,.42]],
  [8, 1, [-9.9,.223,-9.86,.215,-9.9,.209,-9.93,.215]],
];

const z9: Region[] = [
  [1, 2, [-11.42,1,-11.49,.985,-11.49,.778,-11.42,.771,-11.42,.697,-11.35,.689,-11.35,.604,-11.27,.597,-11.27,.516,-11.2,.508,-11.2,.423,-11.12,.416,-11.12,.364,-11.06,.357,-11.06,.305,-10.98,.297,-10.98,.242,-10.91,.234,-10.91,.186,-10.84,.179,-10.84,.131,-10.77,.124,-10.77,.072,-10.7,.064,-10.7,.021,-10.64,.021,-10.53,.038,-10.19,.068,-9.95,.087,-9.69,.112]],
  [0, 1, [-11.49,.985,-11.41,.974,-11.33,.905,-11.48,.815,-11.49,.815]],
  [0, 1, [-11.06,.475,-11.03,.405,-11.06,.386,-11.09,.426]],
  [2, 0, [-11.37,1,-11.27,.944,-11.27,.893,-11.35,.863,-11.37,.819,-11.33,.745,-11.29,.693,-11.3,.604,-11.27,.516,-11.16,.523,-11.06,.56,-10.96,.523,-10.98,.449,-10.93,.375,-10.81,.308,-10.86,.279,-10.81,.205,-10.79,.146,-10.72,.116,-10.59,.112,-10.52,.05,-10.19,.079,-9.96,.132,-9.92,.109,-9.69,.114]],
  [1, 1, [-11.13,.719,-11.09,.697,-11.13,.673,-11.17,.697]],
  [3, 0, [-11.26,1,-11.21,.913,-11.27,.87,-11.33,.834,-11.29,.76,-11.29,.73,-11.12,.745,-11.03,.693,-11.07,.612,-11.03,.567,-10.93,.538,-10.92,.397,-10.78,.338,-10.73,.316,-10.83,.283,-10.78,.168,-10.72,.142,-10.56,.116,-10.49,.068,-10.22,.094,-10,.142,-9.9,.112,-9.69,.114]],
  [4, 0, [-11.17,1,-11.2,.944,-11.21,.913,-11.3,.842,-11.24,.782,-11.18,.76,-11.1,.771,-11.01,.693,-11.03,.619,-11.01,.597,-10.9,.567,-10.89,.405,-10.78,.338,-10.7,.312,-10.8,.257,-10.78,.19,-10.7,.161,-10.69,.301,-10.66,.3,-10.52,.172,-10.49,.131,-10.35,.105,-10.01,.168,-9.87,.112,-9.69,.114]],
  [5, 0, [-11.12,1,-11.2,.9,-11.25,.797,-11.2,.782,-11.06,.837,-11.01,.745,-11,.641,-10.93,.597,-10.86,.567,-10.86,.412,-10.72,.368,-10.56,.301,-10.47,.175,-10.44,.124,-10.29,.124,-10.02,.183,-9.84,.116,-9.69,.114]],
  [6, 0, [-10.95,1,-10.95,.952,-11.09,.904,-11.01,.848,-10.93,.745,-10.93,.641,-10.87,.582,-10.75,.512,-10.83,.449,-10.83,.412,-10.76,.39,-10.73,.471,-10.7,.419,-10.58,.345,-10.52,.227,-10.46,.149,-10.29,.142,-10.01,.19,-9.81,.116,-9.69,.114]],
  [7, 0, [-10.87,1,-10.86,.908,-10.91,.834,-10.86,.745,-10.83,.656,-10.8,.582,-10.64,.516,-10.67,.449,-10.56,.338,-10.5,.227,-10.46,.286,-10.46,.419,-10.41,.434,-10.33,.412,-10.32,.286,-10.29,.175,-10.29,.157,-10.01,.209,-9.78,.124,-9.71,.227,-9.69,.23]],
  [8, 0, [-10.81,1,-10.81,.819,-10.7,.712,-10.76,.656,-10.76,.604,-10.66,.56,-10.56,.538,-10.56,.449,-10.41,.456,-10.3,.427,-10.27,.201,-10.1,.22,-10.09,.308,-10.21,.375,-10.19,.482,-10.05,.445,-9.98,.53,-9.84,.523,-9.87,.427,-9.69,.338]],
  [9, 1, [-10.32,1,-10.22,.9,-10.26,.867,-10.39,.811,-10.38,.73,-10.49,.76,-10.5,.671,-10.36,.663,-10.27,.615,-10.18,.626,-10.09,.582,-9.95,.604,-9.85,.678,-9.98,.723,-10.02,.797,-10.05,.896,-10.01,.904,-9.84,.826,-9.69,.612,-9.69,1,-9.82,1,-9.92,.952,-9.95,1,-10.18,1,-10.2,.97,-10.26,1]],
  [8, 1, [-10.22,.865,-10.15,.797,-10.19,.793,-10.22,.83]],
  [9, 1, [-10.61,.978,-10.6,.945,-10.64,.892,-10.52,.803,-10.62,.77,-10.73,.871,-10.7,.945]],
  [9, 1, [-10.56,1,-10.41,1,-10.48,.956]],
  [9, 1, [-10.64,.619,-10.6,.604,-10.64,.593,-10.68,.604]],
  [9, 1, [-10.33,.578,-10.3,.493,-10.32,.46,-10.44,.482,-10.5,.508,-10.49,.545]],
  [9, 1, [-9.76,.438,-9.74,.41,-9.76,.39,-9.78,.41]],
  [7, 1, [-10.7,.7,-10.55,.734,-10.54,.66,-10.64,.68]],
  [6, 1, [-9.93,.349,-9.78,.312,-9.98,.25,-9.99,.312]],
  [8, 1, [-10.49,.371,-10.46,.3,-10.49,.249,-10.51,.3]],
  [7, 1, [-10.98,.638,-10.96,.615,-10.98,.597,-11,.615]],
  [6, 1, [-10.46,.42,-10.41,.434,-10.34,.41,-10.33,.286,-10.47,.286]],
  [5, 1, [-10.41,.286,-10.32,.28,-10.3,.16,-10.41,.145,-10.47,.21]],
  [4, 1, [-10.39,.264,-10.32,.257,-10.3,.165,-10.38,.152,-10.46,.22]],
  [3, 1, [-10.38,.235,-10.32,.17,-10.35,.157,-10.43,.213]],
  [5, 1, [-10.76,.242,-10.74,.212,-10.76,.183,-10.78,.212]],
];

type Panel = {
  name: string; regions: Region[]; xR: number; jet: string[]; cmax: number;
  gx: [number, number]; gy: [number, number]; cx: [number, number]; cy: [number, number];
  lx: number; ly: number; frame?: boolean;
};

const panels: Panel[] = [
  { name: "z = 1", regions: z1, xR: -9.72, jet: JET11, cmax: 1.1, gx: [90, 859], gy: [41, 737], cx: [908, 940], cy: [41, 735], lx: 132, ly: 719 },
  { name: "z = 2", regions: z2, xR: -9.72, jet: JET10, cmax: 1, gx: [90, 859], gy: [866, 1562], cx: [908, 940], cy: [866, 1561], lx: 132, ly: 1542 },
  { name: "z = 3", regions: z3, xR: -9.72, jet: JET10, cmax: 1, gx: [90, 859], gy: [1693, 2390], cx: [908, 940], cy: [1693, 2386], lx: 132, ly: 2371 },
  { name: "z = 4", regions: z4, xR: -9.72, jet: JET10, cmax: 1, gx: [1186, 1936], gy: [41, 738], cx: [1982, 2018], cy: [41, 738], lx: 1205, ly: 724, frame: true },
  { name: "z = 5", regions: z5, xR: -9.72, jet: JET10, cmax: 1, gx: [1189, 1959], gy: [866, 1562], cx: [2007, 2038], cy: [866, 1561], lx: 1232, ly: 1542 },
  { name: "z = 6", regions: z6, xR: -9.71, jet: JET11, cmax: 1.1, gx: [1189, 1965], gy: [1693, 2395], cx: [2015, 2048], cy: [1693, 2392], lx: 1232, ly: 2376 },
  { name: "z = 7", regions: z7, xR: -9.72, jet: JET10, cmax: 1, gx: [2278, 3033], gy: [41, 723], cx: [3082, 3113], cy: [41, 721], lx: 2318, ly: 703 },
  { name: "z = 8", regions: z8, xR: -9.7, jet: JET10, cmax: 1, gx: [2288, 3051], gy: [866, 1562], cx: [3106, 3138], cy: [866, 1561], lx: 2329, ly: 1542 },
  { name: "z = 9", regions: z9, xR: -9.7, jet: JET10, cmax: 1, gx: [2288, 3051], gy: [1688, 2385], cx: [3106, 3138], cy: [1688, 2382], lx: 2329, ly: 2366 },
];

const LABEL = { fontFamily: "DejaVu Sans", fontSize: 24, color: "#4d4d4d" };

function pairs(flat: number[]): number[][] {
  const out: number[][] = [];
  for (let i = 0; i + 1 < flat.length; i += 2) out.push([flat[i], flat[i + 1]]);
  return out;
}

function buildOption() {
  const grid: any[] = [], xAxis: any[] = [], yAxis: any[] = [], series: any[] = [], graphic: any[] = [];
  panels.forEach((p) => {
    const gi = grid.length;
    grid.push({
      left: p.gx[0], width: p.gx[1] - p.gx[0], top: p.gy[0], height: p.gy[1] - p.gy[0],
      show: !!p.frame, borderColor: "#8a8a8a", borderWidth: 3, backgroundColor: "transparent",
    });
    xAxis.push({
      type: "value", gridIndex: gi, min: X_TICK_MIN, max: X_TICK_MAX, interval: 0.5,
      splitLine: { show: false }, axisLine: { show: false },
      axisTick: { show: !!p.frame, length: 7, lineStyle: { color: "#8a8a8a", width: 2 } },
      axisLabel: { ...LABEL, margin: 22, showMinLabel: true, showMaxLabel: true, formatter: (v: number) => v.toFixed(1).replace("-", "\u2212") },
    });
    yAxis.push({
      type: "value", gridIndex: gi, min: 0, max: 1, interval: 0.2,
      splitLine: { show: false }, axisLine: { show: false },
      axisTick: { show: !!p.frame, length: 7, lineStyle: { color: "#8a8a8a", width: 2 } },
      axisLabel: { ...LABEL, margin: 24, formatter: (v: number) => v.toFixed(1) },
    });
    series.push({
      type: "custom", coordinateSystem: "cartesian2d", xAxisIndex: gi, yAxisIndex: gi, clip: false, silent: true,
      data: p.regions.map((r, i) => [r[2][0], r[2][1], i]),
      renderItem: (params: any, api: any) => {
        const r = p.regions[params.dataIndex];
        const pts = pairs(r[2]);
        const kind = r[1];
        const fillPts = kind === 1 ? pts : [...pts, [p.xR, 1]];
        const children: any[] = [{
          type: "polygon",
          shape: { points: fillPts.map((q) => api.coord(q)) },
          style: { fill: p.jet[r[0]], stroke: null },
        }];
        if (kind !== 2) {
          const line = kind === 1 ? [...pts, pts[0]] : pts;
          const floor = p.regions[0][2][p.regions[0][2].length - 1] + 0.004;
          let run: number[][] = [];
          const flush = () => {
            if (run.length > 1) {
              children.push({
                type: "polyline",
                shape: { points: run.map((q) => api.coord(q)) },
                style: { fill: null, stroke: "rgba(20,20,20,0.65)", lineWidth: 1.2 },
              });
            }
            run = [];
          };
          line.forEach((q, i) => {
            if (i > 0) {
              const o = line[i - 1];
              const atEdge = (o[1] <= floor && q[1] <= floor) || (o[1] >= 1 && q[1] >= 1);
              if (atEdge) flush();
            }
            run.push(q);
          });
          flush();
        }
        return { type: "group", children };
      },
    });

    // colour bar
    const ci = grid.length;
    grid.push({ left: p.cx[0], width: p.cx[1] - p.cx[0], top: p.cy[0], height: p.cy[1] - p.cy[0] });
    xAxis.push({ type: "value", gridIndex: ci, min: 0, max: 1, show: false });
    yAxis.push({
      type: "value", gridIndex: ci, min: 0, max: p.cmax, position: "right",
      splitLine: { show: false }, axisLine: { show: false },
      axisTick: { show: true, length: 7, inside: false, customValues: CBAR_TICKS, lineStyle: { color: "#333", width: 2 } },
      axisLabel: { ...LABEL, margin: 25, customValues: CBAR_TICKS, formatter: (v: number) => v.toFixed(1) },
    });
    series.push({
      type: "custom", coordinateSystem: "cartesian2d", xAxisIndex: ci, yAxisIndex: ci, clip: false, silent: true,
      data: p.jet.map((_, i) => [0, i / 10, i]),
      renderItem: (params: any, api: any) => {
        const i = params.dataIndex;
        const a = api.coord([0, i / 10]);
        const b = api.coord([1, (i + 1) / 10]);
        return { type: "rect", shape: { x: a[0], y: b[1], width: b[0] - a[0], height: a[1] - b[1] + 0.6 }, style: { fill: p.jet[i] } };
      },
    });

    graphic.push({
      type: "text", x: p.lx, y: p.ly + 14, scaleX: 0.82, z: 100,
      style: { text: p.name, font: "78px 'DejaVu Sans'", fill: "#0a0a0a", textVerticalAlign: "bottom", textAlign: "left" },
    });
  });
  // the z = 6 panel's labels are cut off on both sides
  graphic.push({ type: "rect", z: 90, shape: { x: 1110, y: 1670, width: 24, height: 740 }, style: { fill: "#fff" } });
  graphic.push({ type: "rect", z: 90, shape: { x: 2103, y: 1670, width: 40, height: 740 }, style: { fill: "#fff" } });
  return { animation: false, backgroundColor: "#fff", grid, xAxis, yAxis, series, graphic };
}

export default function App() {
  const ref = useRef<HTMLDivElement>(null);
  useEffect(() => {
    const chart = echarts.init(ref.current!, undefined, { renderer: "svg" });
    chart.setOption(buildOption());
    return () => chart.dispose();
  }, []);
  return <div ref={ref} style={{ position: "absolute", left: 0, top: 0, width: 3235, height: 2468, filter: "blur(1.3px)" }} />;
}
